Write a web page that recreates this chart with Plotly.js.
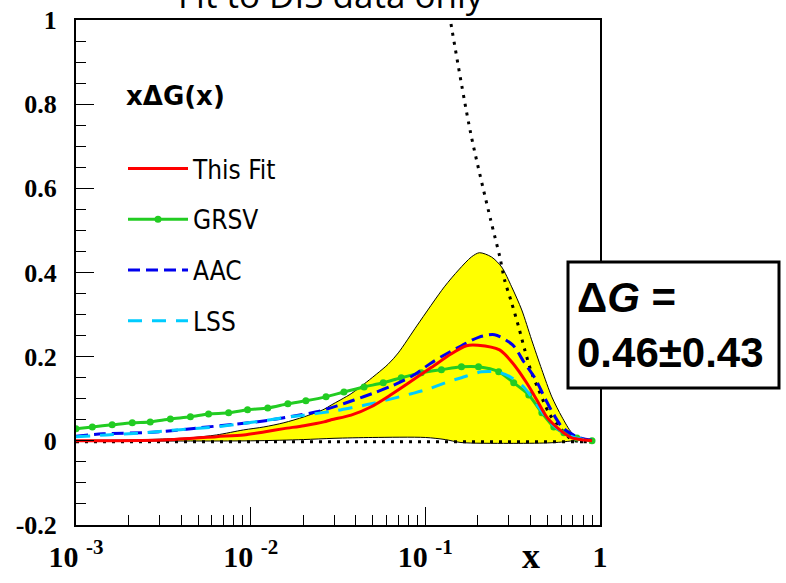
<!DOCTYPE html>
<html><head><meta charset="utf-8">
<script src="https://cdn.plot.ly/plotly-3.0.1.min.js"></script>
<style>html,body{margin:0;padding:0;background:#fff;}#chart{width:786px;height:583px;}</style>
</head><body><div id="chart"></div>
<script>
// ---- data ----
const bandUpperX = [0.001, 0.002, 0.003, 0.00446, 0.00638, 0.00912, 0.0119, 0.0155, 0.0202, 0.0263, 0.0289, 0.0376, 0.0446, 0.0612, 0.070, 0.090, 0.1285, 0.155, 0.1836, 0.204, 0.239, 0.2735, 0.312, 0.3565, 0.406, 0.4645, 0.530, 0.605, 0.690, 0.789, 0.9];
const bandUpperY = [0.001, 0.002, 0.004, 0.007, 0.014, 0.026, 0.033, 0.043, 0.057, 0.075, 0.085, 0.112, 0.135, 0.182, 0.209, 0.275, 0.366, 0.406, 0.437, 0.447, 0.437, 0.413, 0.366, 0.311, 0.240, 0.169, 0.1045, 0.057, 0.019, 0.002, 0];
const bandLowerX = [0.001, 0.01, 0.02, 0.03, 0.05, 0.1, 0.13, 0.16, 0.3, 0.5, 0.6, 0.7, 0.8, 0.9];
const bandLowerY = [0, 0, 0.003, 0.006, 0.008, 0.008, 0.003, -0.004, -0.006, -0.005, -0.003, 0, 0.001, 0];

const disOnlyUpperX = [0.1374, 0.1816, 0.2366, 0.267, 0.2844, 0.312, 0.342, 0.371, 0.406, 0.4456, 0.509, 0.581, 0.63, 0.69, 0.8, 0.9];
const disOnlyUpperY = [1.012, 0.732, 0.525, 0.437, 0.382, 0.328, 0.271, 0.216, 0.1615, 0.121, 0.0665, 0.033, 0.019, 0.002, -0.002, -0.002];
const disOnlyLowerX = [0.001, 0.01, 0.1, 0.3, 0.6, 0.9];
const disOnlyLowerY = [-0.002, -0.002, -0.002, -0.003, -0.002, -0.002];

const thisFitX = [0.001, 0.00316, 0.00638, 0.00912, 0.0119, 0.0155, 0.0202, 0.0263, 0.0289, 0.0376, 0.049, 0.0638, 0.0832, 0.108, 0.141, 0.172, 0.20, 0.266, 0.316, 0.380, 0.435, 0.495, 0.589, 0.69, 0.82, 0.9];
const thisFitY = [0, 0.002, 0.010, 0.014, 0.021, 0.029, 0.036, 0.045, 0.050, 0.061, 0.081, 0.110, 0.142, 0.174, 0.207, 0.226, 0.227, 0.216, 0.185, 0.138, 0.097, 0.057, 0.026, 0.007, 0.002, 0];

const grsvX = [0.001, 0.00124, 0.00161, 0.0021, 0.00266, 0.00347, 0.00452, 0.00574, 0.00748, 0.0096, 0.01253, 0.01633, 0.0207, 0.027, 0.0342, 0.0446, 0.0574, 0.0728, 0.0948, 0.1236, 0.161, 0.2015, 0.263, 0.3206, 0.391, 0.4645, 0.544, 0.621, 0.738, 0.9];
const grsvY = [0.0285, 0.033, 0.038, 0.043, 0.045, 0.052, 0.057, 0.064, 0.0665, 0.074, 0.078, 0.088, 0.095, 0.1045, 0.116, 0.128, 0.138, 0.150, 0.1615, 0.169, 0.176, 0.176, 0.164, 0.138, 0.109, 0.0665, 0.033, 0.019, 0.007, 0.0];

const aacX = [0.001, 0.00143, 0.00288, 0.0051, 0.0083, 0.0113, 0.0184, 0.0239, 0.0312, 0.0391, 0.0509, 0.0638, 0.0832, 0.108, 0.1285, 0.161, 0.2015, 0.249, 0.316, 0.366, 0.423, 0.483, 0.544, 0.612, 0.738, 0.936];
const aacY = [0.011, 0.0166, 0.021, 0.031, 0.040, 0.046, 0.060, 0.069, 0.083, 0.097, 0.114, 0.130, 0.153, 0.185, 0.204, 0.226, 0.246, 0.252, 0.228, 0.188, 0.150, 0.102, 0.062, 0.031, 0.0095, 0];

const lssX = [0.001, 0.00149, 0.00243, 0.00329, 0.0047, 0.00663, 0.00865, 0.0119, 0.0155, 0.0202, 0.030, 0.0391, 0.049, 0.0832, 0.104, 0.132, 0.161, 0.21, 0.263, 0.312, 0.366, 0.412, 0.470, 0.537, 0.63, 0.738, 0.86];
const lssY = [0.0095, 0.014, 0.019, 0.024, 0.029, 0.034, 0.040, 0.048, 0.055, 0.061, 0.071, 0.080, 0.088, 0.112, 0.123, 0.139, 0.150, 0.164, 0.163, 0.150, 0.128, 0.100, 0.0665, 0.038, 0.017, 0.006, 0.002];

const seriesNames = ["This Fit", "GRSV", "AAC", "LSS"];
const xTickVals = [0.001, 0.01, 0.1, 1];
const xTickText = ["10 <sup>-3</sup>", "10 <sup>-2</sup>", "10 <sup>-1</sup>", "1"];
const yTickVals = [-0.2, 0, 0.2, 0.4, 0.6, 0.8, 1];
const yTickText = ["-0.2", "0", "0.2", "0.4", "0.6", "0.8", "1"];
const plotTitle = "Fit to DIS data only";
const legendHeader = "xΔG(x)";
const boxText = "<b>Δ<i>G</i> =</b><br><b>0.46±0.43</b>";
const xTitle = "x";

// ---- traces ----
const sp = {shape: 'spline', smoothing: 0.8};
const traces = [
  {x: bandLowerX, y: bandLowerY, type: 'scatter', mode: 'lines', line: Object.assign({color: '#000', width: 1}, sp), showlegend: false, hoverinfo: 'skip'},
  {x: bandUpperX, y: bandUpperY, type: 'scatter', mode: 'lines', fill: 'tonexty', fillcolor: '#ffff00', line: Object.assign({color: '#000', width: 1}, sp), showlegend: false, hoverinfo: 'skip'},
  {x: disOnlyLowerX, y: disOnlyLowerY, type: 'scatter', mode: 'lines', line: {color: '#000', width: 3, dash: '3px,6px'}, showlegend: false},
  {x: disOnlyUpperX, y: disOnlyUpperY, type: 'scatter', mode: 'lines', line: Object.assign({color: '#000', width: 3, dash: '3px,6px'}, sp), showlegend: false},
  {x: grsvX, y: grsvY, name: seriesNames[1], legendgroup: 'g2', legendrank: 2, type: 'scatter', mode: 'lines+markers', line: Object.assign({color: '#22cc22', width: 3}, sp), marker: {color: '#22cc22', size: 7, symbol: 'circle'}},
  {x: aacX, y: aacY, name: seriesNames[2], legendgroup: 'g3', legendrank: 3, type: 'scatter', mode: 'lines', line: Object.assign({color: '#0000ee', width: 3, dash: '12px,6px'}, sp)},
  {x: lssX, y: lssY, name: seriesNames[3], legendgroup: 'g4', legendrank: 4, type: 'scatter', mode: 'lines', line: Object.assign({color: '#00ccff', width: 3, dash: '14px,10px'}, sp)},
  {x: thisFitX, y: thisFitY, name: seriesNames[0], legendgroup: 'g1', legendrank: 1, type: 'scatter', mode: 'lines', line: Object.assign({color: '#ff0000', width: 3}, sp)}
];

const W = 786, H = 583, L = 76, R = 186, T = 20, B = 58;
const pw = W - L - R, ph = H - T - B;
const px2x = p => (p - L) / pw;
const py2y = p => (H - B - p) / ph;

const serifY = {family: 'Liberation Serif, Times New Roman, serif', size: 26, color: '#000', weight: 'bold'};
const serifX = {family: 'Liberation Serif, Times New Roman, serif', size: 30, color: '#000', weight: 'bold'};

const layout = {
  width: W, height: H,
  margin: {l: L, r: R, t: T, b: B, pad: 0},
  paper_bgcolor: '#fff', plot_bgcolor: '#fff',
  xaxis: {
    type: 'log', range: [-3, 0], showgrid: false, zeroline: false,
    showline: true, linecolor: '#000', linewidth: 2, mirror: true,
    ticks: 'inside', ticklen: 18, tickwidth: 1, tickcolor: '#000',
    tickmode: 'array', tickvals: xTickVals, ticktext: xTickText,
    tickfont: serifX, ticklabelstandoff: 4,
    minor: {dtick: 'D1', ticks: 'inside', ticklen: 10, tickwidth: 1, tickcolor: '#000', showgrid: false}
  },
  yaxis: {
    range: [-0.2, 1], showgrid: false, zeroline: false,
    showline: true, linecolor: '#000', linewidth: 2, mirror: true,
    ticks: 'inside', ticklen: 18, tickwidth: 1, tickcolor: '#000',
    tickmode: 'array', tickvals: yTickVals, ticktext: yTickText,
    tickfont: serifY, ticklabelstandoff: 12,
    minor: {dtick: 0.05, ticks: 'inside', ticklen: 10, tickwidth: 1, tickcolor: '#000', showgrid: false}
  },
  showlegend: true,
  legend: {
    x: px2x(123), xanchor: 'left', y: py2y(145), yanchor: 'top',
    bgcolor: 'rgba(0,0,0,0)', borderwidth: 0,
    font: {family: 'Liberation Sans Narrow, DejaVu Sans Condensed, Arial Narrow, Liberation Sans, sans-serif', size: 26, color: '#000'},
    itemwidth: 60, tracegroupgap: 14, traceorder: 'grouped'
  },
  shapes: [
    {type: 'rect', xref: 'paper', yref: 'paper', x0: px2x(568), x1: px2x(779), y0: py2y(388), y1: py2y(262),
     line: {color: '#000', width: 3}, fillcolor: '#fff', layer: 'above'}
  ],
  annotations: [
    {text: plotTitle, xref: 'paper', yref: 'paper', x: px2x(331), y: 1.0, xanchor: 'center', yanchor: 'bottom', showarrow: false,
     font: {family: 'Open Sans, sans-serif', size: 35, color: '#000'}},
    {text: legendHeader, xref: 'paper', yref: 'paper', x: px2x(124), y: py2y(96), xanchor: 'left', yanchor: 'middle', showarrow: false,
     font: {family: 'DejaVu Sans, sans-serif', size: 26, color: '#000', weight: 'bold'}},
    {text: boxText, xref: 'paper', yref: 'paper', x: px2x(575), y: py2y(325), xanchor: 'left', yanchor: 'middle', align: 'left', showarrow: false,
     font: {family: 'Liberation Sans, Arial, sans-serif', size: 42, color: '#000'}},
    {text: xTitle, xref: 'paper', yref: 'paper', x: px2x(531), y: py2y(556), xanchor: 'center', yanchor: 'middle', showarrow: false,
     font: {family: 'Liberation Serif, Times New Roman, serif', size: 36, color: '#000', weight: 'bold'}}
  ]
};

Plotly.newPlot('chart', traces, layout, {staticPlot: true, displayModeBar: false});
</script>
</body></html>
